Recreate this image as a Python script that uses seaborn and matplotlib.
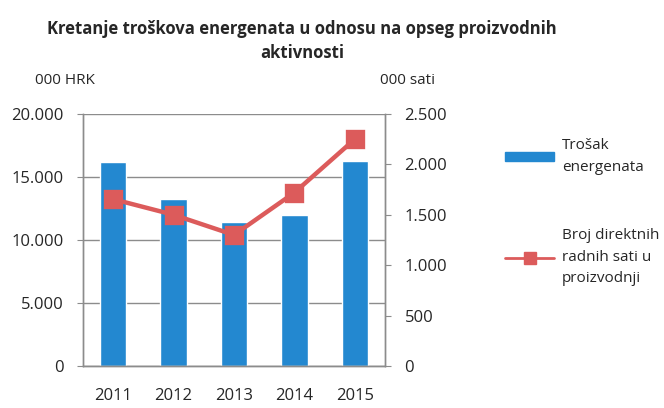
import pandas as pd
import numpy as np
import matplotlib.pyplot as plt
import seaborn as sns
from matplotlib.ticker import FuncFormatter, FixedLocator
from matplotlib.lines import Line2D
from matplotlib.patches import Patch

# data
years = ['2011', '2012', '2013', '2014', '2015']
trosak = [16200, 13250, 11450, 12000, 16300]      # 000 HRK
sati = [1655, 1500, 1300, 1720, 2250]             # 000 sati

df = pd.DataFrame({'godina': years, 'trosak': trosak, 'sati': sati})

sns.set_style('white')
plt.rcParams['font.family'] = ['Open Sans', 'DejaVu Sans']
plt.rcParams['text.color'] = '#262626'

blue = '#2388d0'
red = '#dc5b5b'
grey = '#8c8c8c'

fig = plt.figure(figsize=(6.64, 4.08), dpi=100)
ax = fig.add_axes([83 / 664, 1 - 366 / 408, 302 / 664, 252 / 408])

sns.barplot(data=df, x='godina', y='trosak', color=blue, width=0.44,
            saturation=1, ax=ax)
ax.set_ylim(0, 20000)
ax.set_xlim(-0.5, 4.5)
ax.set_yticks(np.arange(0, 20001, 5000))
fmt = FuncFormatter(lambda v, p: f'{int(v):,}'.replace(',', '.'))
ax.yaxis.set_major_formatter(fmt)
ax.grid(axis='y', color=grey, lw=1)
ax.set_axisbelow(True)
ax.set_xlabel('')
ax.set_ylabel('')

ax2 = ax.twinx()
sns.pointplot(data=df, x='godina', y='sati', color=red, markers='s',
              errorbar=None, ax=ax2, markersize=11, linewidth=3.2)
ax2.set_ylim(0, 2500)
ax2.set_xlim(-0.5, 4.5)
ax2.set_yticks(np.arange(0, 2501, 500))
ax2.yaxis.set_major_formatter(fmt)
ax2.set_ylabel('')
ax2.set_xlabel('')

for a in (ax, ax2):
    for s in ['left', 'right', 'bottom']:
        a.spines[s].set_color(grey)
        a.spines[s].set_linewidth(1)
    a.spines['top'].set_visible(False)
    a.tick_params(axis='y', labelsize=12, length=4, color=grey, pad=10,
                  labelcolor='#262626')

ax.tick_params(axis='x', which='major', length=0, labelsize=12, pad=16,
               labelcolor='#262626')
ax.xaxis.set_minor_locator(FixedLocator(np.arange(-0.5, 5, 1)))
ax.tick_params(axis='x', which='minor', length=5, color=grey)

fig.text(0.455, 1 - 41 / 408,
         'Kretanje troškova energenata u odnosu na opseg proizvodnih\naktivnosti',
         ha='center', va='center', fontsize=12, fontweight='bold', linespacing=1.45)
fig.text(35 / 664, 1 - 80 / 408, '000 HRK', fontsize=11, va='center')
fig.text(380 / 664, 1 - 80 / 408, '000 sati', fontsize=11, va='center')

handles = [Patch(color=blue),
           Line2D([0], [0], color=red, lw=2, marker='s', markersize=9)]
labels = ['Trošak\nenergenata', 'Broj direktnih\nradnih sati u\nproizvodnji']
leg = fig.legend(handles, labels, loc='upper left', bbox_to_anchor=(0.74, 0.695),
                 frameon=False, fontsize=11, handlelength=3.2, labelspacing=3.5,
                 handleheight=0.5, handletextpad=0.5)
for t in leg.get_texts():
    t.set_linespacing(1.6)

fig.savefig('out.png', dpi=100)
